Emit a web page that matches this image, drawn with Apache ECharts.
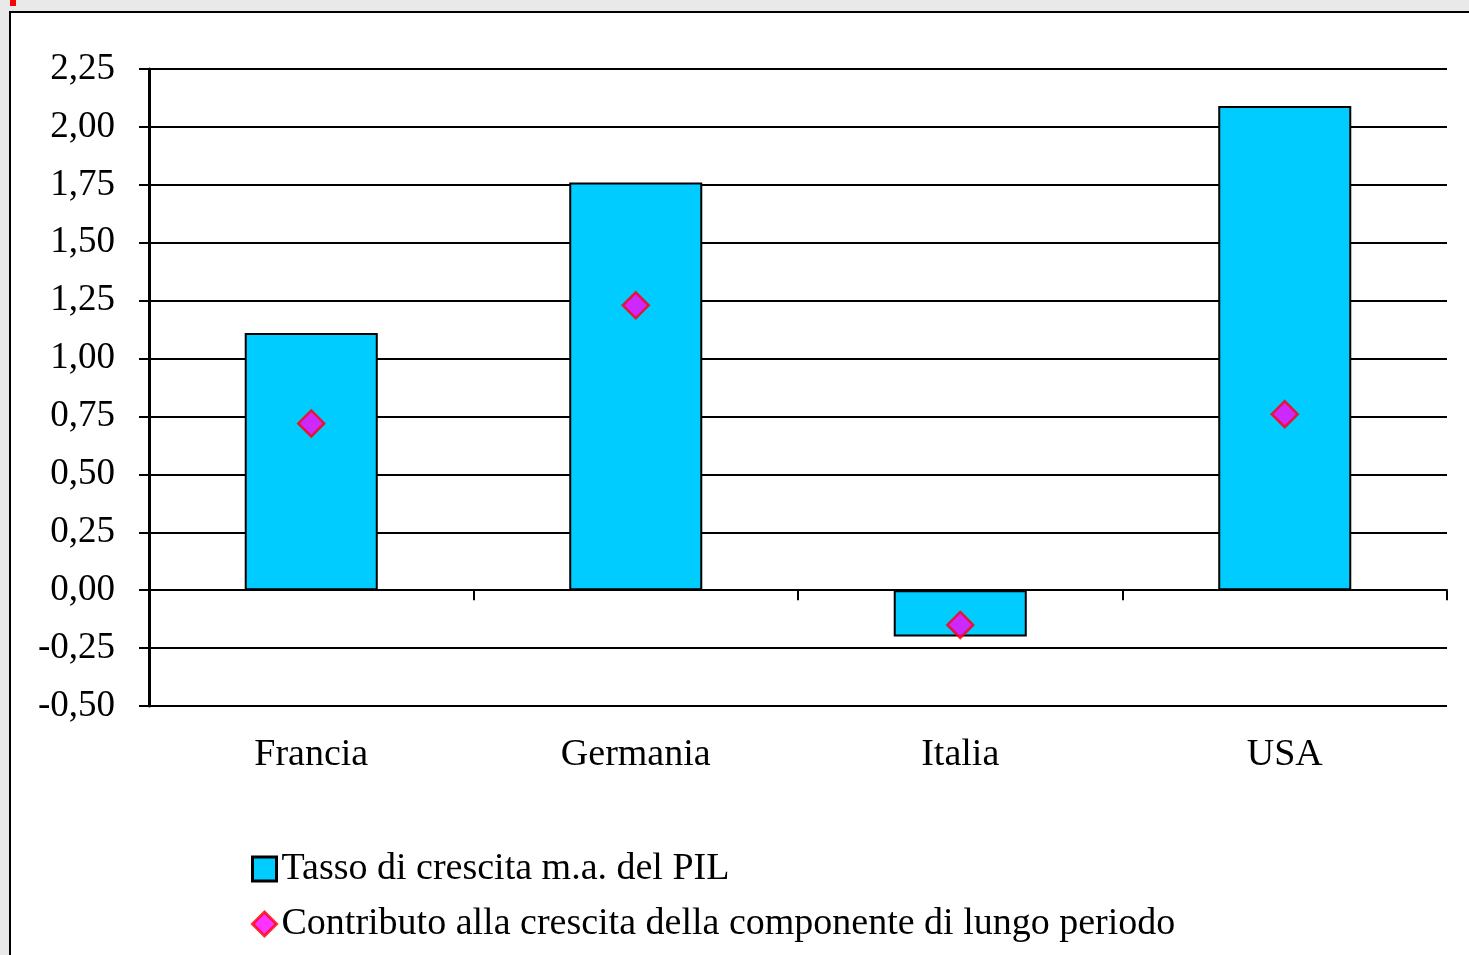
<!DOCTYPE html>
<html>
<head>
<meta charset="utf-8">
<script src="https://cdn.jsdelivr.net/npm/echarts@6/dist/echarts.min.js"></script>
<style>
  html, body { margin: 0; padding: 0; background: #e9e9e9; }
  #chart { width: 1469px; height: 955px; }
</style>
</head>
<body>
<div id="chart"></div>
<script>
// dati
const categories = ['Francia', 'Germania', 'Italia', 'USA'];
const tassoPil = [1.11, 1.76, -0.20, 2.09];
const contributoLungo = [0.72, 1.23, -0.15, 0.76];
const barName = 'Tasso di crescita m.a. del PIL';
const dotName = 'Contributo alla crescita della componente di lungo periodo';

const font = 'Liberation Serif';
const chart = echarts.init(document.getElementById('chart'));

chart.setOption({
  backgroundColor: '#e9e9e9',
  animation: false,
  graphic: [
    {
      type: 'rect', z: -10, silent: true,
      shape: { x: 10, y: 12, width: 1480, height: 960 },
      style: { fill: '#fff', stroke: '#000', lineWidth: 2 }
    },
    {
      type: 'rect', z: -9, silent: true,
      shape: { x: 10, y: 0, width: 6, height: 6 },
      style: { fill: '#ff0000' }
    }
  ],
  legend: {
    orient: 'vertical',
    left: 246,
    top: 845,
    itemGap: 17,
    itemWidth: 24,
    itemHeight: 24,
    data: [
      { name: barName, icon: 'rect', itemStyle: { borderWidth: 3 } },
      { name: dotName, icon: 'diamond', itemStyle: { borderWidth: 3 } }
    ],
    textStyle: { fontFamily: font, fontSize: 38, lineHeight: 38, color: '#000', padding: [0, 0, 0, 0] }
  },
  grid: { left: 149, right: 22, top: 69, bottom: 249 },
  xAxis: [
    {
      type: 'category',
      data: categories,
      position: 'bottom',
      axisLine: { show: false, onZero: false },
      axisTick: { show: false },
      axisLabel: { fontFamily: font, fontSize: 38, color: '#000', margin: 30 }
    },
    {
      type: 'category',
      data: categories,
      position: 'top',
      axisLine: { show: true, onZero: true, lineStyle: { color: '#000', width: 2 } },
      axisTick: { show: true, inside: true, length: 10, lineStyle: { color: '#000', width: 2 } },
      axisLabel: { show: false }
    }
  ],
  yAxis: {
    type: 'value',
    min: -0.5,
    max: 2.25,
    interval: 0.25,
    axisLine: { show: true, lineStyle: { color: '#000', width: 3 } },
    axisTick: { show: true, length: 10, lineStyle: { color: '#000', width: 2 } },
    splitLine: { show: true, lineStyle: { color: '#000', width: 2 } },
    axisLabel: {
      fontFamily: font, fontSize: 37, color: '#000', margin: 34,
      formatter: v => v.toFixed(2).replace('.', ',')
    }
  },
  series: [
    {
      name: barName,
      type: 'bar',
      xAxisIndex: 0,
      barWidth: '41%',
      data: tassoPil,
      itemStyle: { color: '#00ccff', borderColor: '#000', borderWidth: 2 }
    },
    {
      name: dotName,
      type: 'scatter',
      xAxisIndex: 0,
      symbol: 'diamond',
      symbolSize: 26,
      data: contributoLungo,
      z: 5,
      itemStyle: { color: '#ff00ff', borderColor: '#ff0000', borderWidth: 2.5 }
    }
  ]
});
</script>
</body>
</html>
